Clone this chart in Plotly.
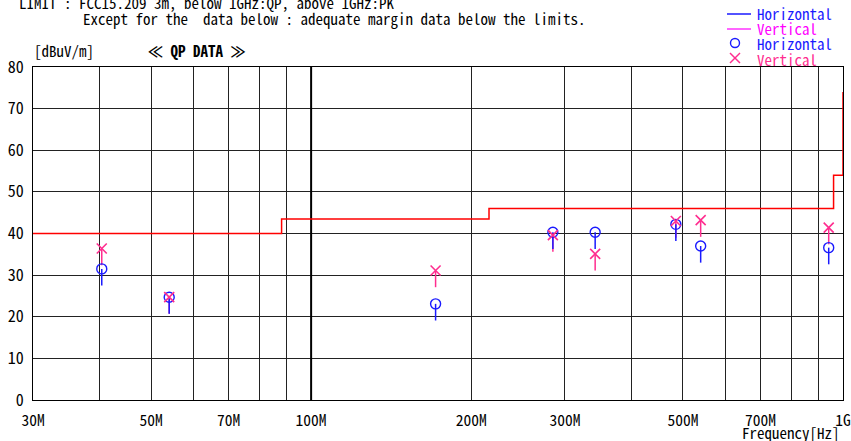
import plotly.graph_objects as go

# ---------------- data (frequencies in MHz, levels in dBuV/m) ----------------
freq_mhz = [40.4, 54.1, 171.4, 284.8, 342.0, 485.0, 540.0, 940.0]

horiz_level = [31.5, 24.7, 23.1, 40.3, 40.3, 42.2, 37.0, 36.6]
horiz_low = [27.5, 20.7, 19.1, 36.3, 36.3, 38.2, 33.0, 32.6]

vert_level = [36.4, 24.7, 31.1, 39.6, 35.1, 43.0, 43.2, 41.4]
vert_low = [32.4, 20.7, 27.1, 35.6, 31.1, 39.0, 39.2, 37.4]

# FCC 15.209 (3 m) limit, step edges
limit_freq_mhz = [30, 88, 216, 960, 1000]
limit_level = [40, 43.5, 46, 54, 74]

grid_freq_mhz = [30, 40, 50, 60, 70, 80, 90, 100, 200, 300, 400, 500, 600, 700, 800, 900, 1000]
grid_labels = ["30M", "", "50M", "", "70M", "", "", "100M", "200M", "300M", "", "500M", "", "700M", "", "", "1G"]
y_ticks = [0, 10, 20, 30, 40, 50, 60, 70, 80]

# ---------------- layout geometry ----------------
W, H = 851, 441
ML, MR, MT, MB = 33, 8, 67, 41
PW, PH = W - ML - MR, H - MT - MB


def px(x):
    return (x - ML) / PW


def py(y):
    return (H - MB - y) / PH


FONT = "Noto Sans Mono CJK JP, DejaVu Sans Mono, monospace"
BLUE = "#1a1aff"
MAGENTA = "#ff00ff"
PINK = "#ff2d8f"


def sticks(fr, top, low):
    xs, ys = [], []
    for f, a, b in zip(fr, top, low):
        xs += [f * 1e6, f * 1e6, None]
        ys += [a, b, None]
    return xs, ys


fig = go.Figure()

# emphasised 100 MHz grid line
fig.add_trace(go.Scatter(x=[100e6, 100e6], y=[0, 80], mode="lines",
                         line=dict(color="black", width=2), hoverinfo="skip", showlegend=False))

# limit line
fig.add_trace(go.Scatter(x=[f * 1e6 for f in limit_freq_mhz], y=limit_level, mode="lines",
                         line=dict(color="#ff0000", width=1.5, shape="hv"),
                         showlegend=False, cliponaxis=False))

# vertical polarisation: sticks
vx, vy = sticks(freq_mhz, vert_level, vert_low)
fig.add_trace(go.Scatter(x=vx, y=vy, mode="lines", line=dict(color=PINK, width=1.5),
                         hoverinfo="skip", showlegend=False))
# horizontal polarisation: sticks
hx, hy = sticks(freq_mhz, horiz_level, horiz_low)
fig.add_trace(go.Scatter(x=hx, y=hy, mode="lines", line=dict(color=BLUE, width=1.5),
                         hoverinfo="skip", showlegend=False))
fig.add_trace(go.Scatter(x=[f * 1e6 for f in freq_mhz], y=horiz_level, mode="markers",
                         marker=dict(symbol="circle-open", size=10, color=BLUE, line=dict(width=1.4)),
                         showlegend=False))
fig.add_trace(go.Scatter(x=[f * 1e6 for f in freq_mhz], y=vert_level, mode="markers",
                         marker=dict(symbol="x-thin-open", size=10, color=PINK, line=dict(width=1.6, color=PINK)),
                         showlegend=False))

annotations = []


def text(s, x, y, color="black", size=15, anchor="left", bold=False):
    if bold:
        s = "<b>" + s + "</b>"
    annotations.append(dict(text=s, x=px(x), y=py(y), xref="paper", yref="paper",
                            xanchor=anchor, yanchor="middle", showarrow=False,
                            font=dict(family=FONT, size=size, color=color)))


text("LIMIT : FCC15.209 3m, below 1GHz:QP, above 1GHz:PK", 17, 2)
text("Except for the  data below : adequate margin data below the limits.", 81, 19)
text("[dBuV/m]", 32, 51)
text("≪ QP DATA ≫", 146, 51, bold=True)
text("Frequency[Hz]", 842, 432, anchor="right")

# legend
leg_y = [14, 29, 44, 59]
text("Horizontal", 755, leg_y[0], BLUE)
text("Vertical", 755, leg_y[1], MAGENTA)
text("Horizontal", 755, leg_y[2], BLUE)
text("Vertical", 755, leg_y[3], PINK)

shapes = [
    dict(type="line", xref="paper", yref="paper", x0=px(727), x1=px(751), y0=py(leg_y[0]), y1=py(leg_y[0]),
         line=dict(color=BLUE, width=1.5)),
    dict(type="line", xref="paper", yref="paper", x0=px(727), x1=px(751), y0=py(leg_y[1]), y1=py(leg_y[1]),
         line=dict(color=MAGENTA, width=1.2)),
    dict(type="circle", xref="paper", yref="paper", xsizemode="pixel", ysizemode="pixel",
         xanchor=px(735), yanchor=py(leg_y[2] - 1), x0=-4.5, x1=4.5, y0=-4.5, y1=4.5,
         line=dict(color=BLUE, width=1.4)),
    dict(type="line", xref="paper", yref="paper", xsizemode="pixel", ysizemode="pixel",
         xanchor=px(735), yanchor=py(leg_y[3] - 1), x0=-5, x1=5, y0=-5, y1=5,
         line=dict(color=PINK, width=1.5)),
    dict(type="line", xref="paper", yref="paper", xsizemode="pixel", ysizemode="pixel",
         xanchor=px(735), yanchor=py(leg_y[3] - 1), x0=-5, x1=5, y0=5, y1=-5,
         line=dict(color=PINK, width=1.5)),
]

fig.update_layout(
    width=W, height=H,
    margin=dict(l=ML, r=MR, t=MT, b=MB, autoexpand=False),
    paper_bgcolor="white", plot_bgcolor="white",
    showlegend=False,
    annotations=annotations,
    shapes=shapes,
    font=dict(family=FONT, color="black"),
    xaxis=dict(type="log", range=[7.4771, 9.0], tickvals=[f * 1e6 for f in grid_freq_mhz],
               ticktext=grid_labels, showgrid=True, gridcolor="#222222", gridwidth=1,
               showline=True, linecolor="black", linewidth=1, mirror=True, ticks="",
               tickfont=dict(family=FONT, size=15.5), zeroline=False,
               automargin=False, ticklabelstandoff=6),
    yaxis=dict(range=[0, 80], tickvals=y_ticks, showgrid=True, gridcolor="#222222", gridwidth=1,
               showline=True, linecolor="black", linewidth=1, mirror=True, ticks="",
               tickfont=dict(family=FONT, size=16), zeroline=False,
               automargin=False, ticklabelstandoff=5),
)

fig.write_html("out.html")
